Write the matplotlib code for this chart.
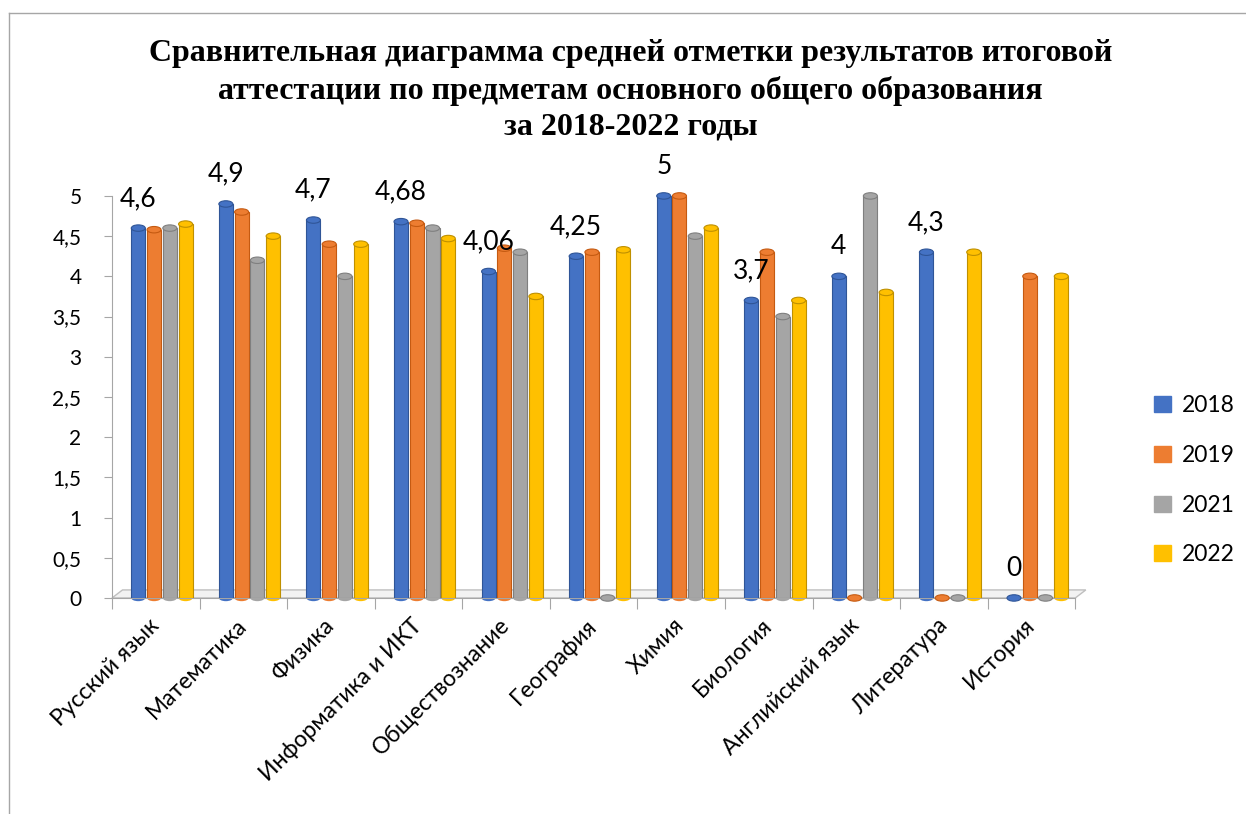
import matplotlib.pyplot as plt
import numpy as np
from matplotlib.patches import Patch, Ellipse

subjects = ['Русский язык', 'Математика', 'Физика', 'Информатика и ИКТ',
            'Обществознание', 'География', 'Химия', 'Биология',
            'Английский язык', 'Литература', 'История']
years = ['2018', '2019', '2021', '2022']
v2018 = [4.6, 4.9, 4.7, 4.68, 4.06, 4.25, 5.0, 3.7, 4.0, 4.3, 0.0]
v2019 = [4.58, 4.8, 4.4, 4.66, 4.35, 4.3, 5.0, 4.3, 0.0, 0.0, 4.0]
v2021 = [4.6, 4.2, 4.0, 4.6, 4.3, 0.0, 4.5, 3.5, 5.0, 0.0, 0.0]
v2022 = [4.65, 4.5, 4.4, 4.47, 3.75, 4.33, 4.6, 3.7, 3.8, 4.3, 4.0]
labels_2018 = ['4,6', '4,9', '4,7', '4,68', '4,06', '4,25', '5', '3,7', '4', '4,3', '0']

colors = ['#4472C4', '#ED7D31', '#A5A5A5', '#FFC000']
edges = ['#2F5597', '#C55A11', '#7F7F7F', '#BF9000']

plt.rcParams['font.family'] = ['Lato', 'DejaVu Sans']

fig = plt.figure(figsize=(12.46, 8.14), dpi=100)
ax = fig.add_axes([0.0899, 0.2654, 0.7731, 0.4939])

x = np.arange(len(subjects))
w = 0.16
step = 0.18
shift = 0.07
cap = 0.08
series = [v2018, v2019, v2021, v2022]

# floor
ax.fill([-0.5, 10.5, 10.62, -0.38], [0.0, 0.0, 0.1, 0.1], color='#F2F2F2',
        edgecolor='#BFBFBF', linewidth=1, zorder=1, clip_on=False)

for i, vals in enumerate(series):
    pos = x + shift + (i - 1.5) * step
    ax.bar(pos, vals, width=w, color=colors[i], edgecolor=edges[i], linewidth=0.8, zorder=3)
    for p, v in zip(pos, vals):
        ax.add_patch(Ellipse((p, v), w, cap, facecolor=colors[i], edgecolor=edges[i],
                             linewidth=0.8, zorder=4, clip_on=False))
        if v > 0:
            ax.add_patch(Ellipse((p, 0), w, cap, facecolor=colors[i], edgecolor='none',
                                 zorder=2, clip_on=False))

for xi, v, lab in zip(x, v2018, labels_2018):
    ax.text(xi + shift - 1.5 * step, v + 0.37, lab, ha='center', va='center', fontsize=19, zorder=5)

ax.set_xlim(-0.5, 10.5)
ax.set_ylim(0, 5)
ax.set_yticks(np.arange(0, 5.01, 0.5))
ax.set_yticklabels(['0', '0,5', '1', '1,5', '2', '2,5', '3', '3,5', '4', '4,5', '5'], fontsize=15)
ax.set_xticks(np.arange(-0.5, 10.6, 1))
ax.set_xticklabels([])
ax.tick_params(axis='x', length=8, color='#A6A6A6', direction='out')
ax.tick_params(axis='y', length=6, color='#A6A6A6', direction='out', pad=16)
for s in ['top', 'right']:
    ax.spines[s].set_visible(False)
ax.spines['left'].set_color('#A6A6A6')
ax.spines['bottom'].set_color('#A6A6A6')

for xi, name in zip(x, subjects):
    ax.text(xi, -0.3, name, rotation=45, rotation_mode='anchor', ha='right', va='center',
            fontsize=16.5)

handles = [Patch(color=c, label=y) for c, y in zip(colors, years)]
fig.legend(handles=handles, loc='center left', bbox_to_anchor=(0.91, 0.41), frameon=False,
           fontsize=16.5, handlelength=0.7, handleheight=0.7, handletextpad=0.5, labelspacing=1.25)

fig.text(0.506, 0.889, 'Сравнительная диаграмма средней отметки результатов итоговой\n'
         'аттестации по предметам основного общего образования\nза 2018-2022 годы',
         ha='center', va='center', family='Liberation Serif', fontweight='bold', fontsize=23,
         linespacing=1.33)

# frame
fig.add_artist(plt.Line2D([9 / 1246, 1.0], [1 - 13 / 814] * 2, color='#A6A6A6', lw=1))
fig.add_artist(plt.Line2D([9 / 1246] * 2, [0.0, 1 - 13 / 814], color='#A6A6A6', lw=1))

fig.savefig('out.png', dpi=100)
